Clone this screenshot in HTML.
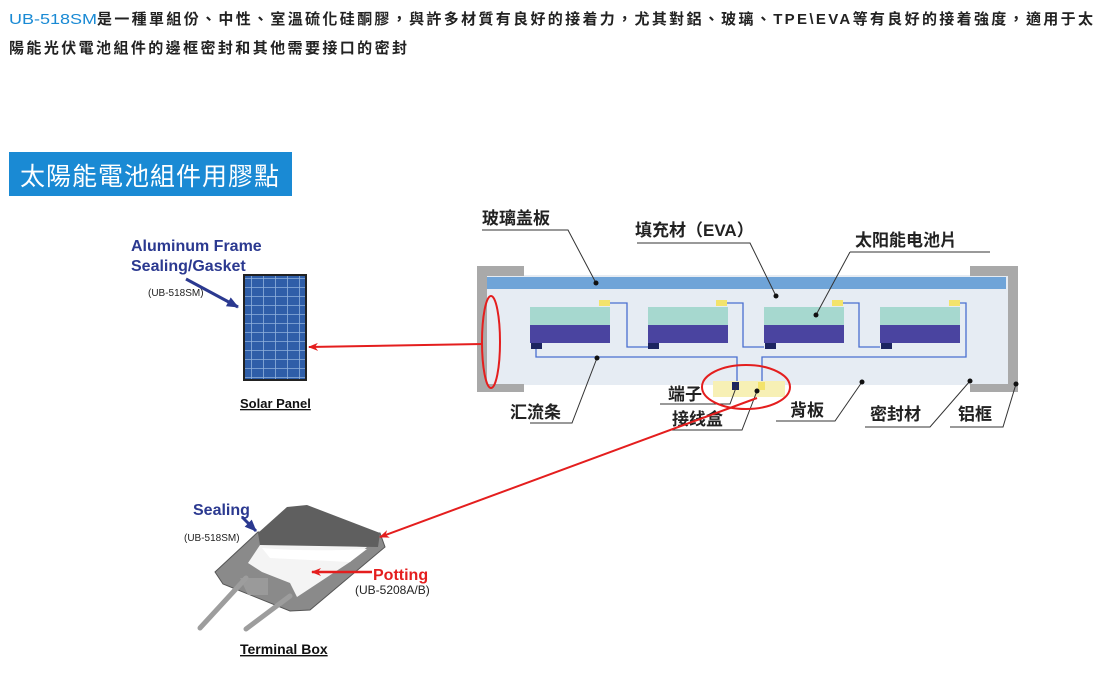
<!DOCTYPE html>
<html><head><meta charset="utf-8"><style>
body{margin:0;background:#fff;width:1100px;height:686px;overflow:hidden}
svg{display:block}
.cn{font-family:"Liberation Sans","Noto Sans CJK TC",sans-serif}
</style></head><body>
<svg width="1100" height="686" viewBox="0 0 1100 686" xmlns="http://www.w3.org/2000/svg">
<defs>
<marker id="ar" markerWidth="10" markerHeight="8" refX="9" refY="4" orient="auto" markerUnits="userSpaceOnUse"><path d="M0,0 L10,4 L0,8 L3,4z" fill="#e41e1e"/></marker>
<marker id="ab" markerWidth="12" markerHeight="10" refX="11" refY="5" orient="auto" markerUnits="userSpaceOnUse"><path d="M0,0 L12,5 L0,10z" fill="#2b3990"/></marker>
<pattern id="pv" width="12" height="9" patternUnits="userSpaceOnUse"><rect width="12" height="9" fill="#2f5ea8"/><path d="M0,8.5H12M11.5,0V9" stroke="#8fb0dc" stroke-width="0.8"/></pattern>
</defs>
<g class="cn" font-weight="bold" font-size="15" fill="#222">
<text x="9" y="24" fill="#1a8ad4" font-weight="normal" textLength="88" lengthAdjust="spacingAndGlyphs">UB-518SM</text>
<text x="97" y="24" textLength="996" lengthAdjust="spacing">是一種單組份、中性、室溫硫化硅酮膠，與許多材質有良好的接着力，尤其對鋁、玻璃、TPE\EVA等有良好的接着強度，適用于太</text>
<text x="9" y="53" textLength="398" lengthAdjust="spacing">陽能光伏電池組件的邊框密封和其他需要接口的密封</text>
</g>
<rect x="9" y="152" width="283" height="44" fill="#1a8ad4"/>
<text x="20" y="185" class="cn" font-size="25" fill="#fff" letter-spacing="1">太陽能電池組件用膠點</text>

<rect x="487" y="275" width="522" height="110" fill="#e6ecf3"/>
<rect x="487" y="277" width="519" height="12" fill="#6fa4d8"/>
<path d="M477,266H524V276H487V384H524V392H477Z" fill="#a9a9a9"/>
<path d="M1018,266H970V276H1008V384H970V392H1018Z" fill="#a9a9a9"/>
<g>
<rect x="530" y="307" width="80" height="18" fill="#a6d8cf"/><rect x="530" y="325" width="80" height="18" fill="#4a44a0"/>
<rect x="648" y="307" width="80" height="18" fill="#a6d8cf"/><rect x="648" y="325" width="80" height="18" fill="#4a44a0"/>
<rect x="764" y="307" width="80" height="18" fill="#a6d8cf"/><rect x="764" y="325" width="80" height="18" fill="#4a44a0"/>
<rect x="880" y="307" width="80" height="18" fill="#a6d8cf"/><rect x="880" y="325" width="80" height="18" fill="#4a44a0"/>
<g fill="#f3e36b"><rect x="599" y="300" width="11" height="6"/><rect x="716" y="300" width="11" height="6"/><rect x="832" y="300" width="11" height="6"/><rect x="949" y="300" width="11" height="6"/></g>
<g fill="#1c2460"><rect x="531" y="343" width="11" height="6"/><rect x="648" y="343" width="11" height="6"/><rect x="765" y="343" width="11" height="6"/><rect x="881" y="343" width="11" height="6"/></g>
<g fill="none" stroke="#4a6fd0" stroke-width="1.3">
<path d="M610,303H627V347H648M727,303H743V347H764M843,303H859V347H880M960,303H966V357H762V385M536,349V357H737V385"/>
</g>
<rect x="713" y="381" width="72" height="16" fill="#f7f0b5"/>
<rect x="732" y="382" width="7" height="8" fill="#1c2460"/>
<rect x="758" y="382" width="7" height="8" fill="#f3e36b"/>
</g>
<g stroke="#333" stroke-width="1" fill="none">
<path d="M482,230H568L596,283M637,243H750L776,296M850,252H990M850,252L816,315M530,423H572L597,358M660,404H730L737,385M672,430H742L757,391M776,421H835L862,382M865,427H930L970,381M950,427H1003L1016,384"/>
</g>
<g fill="#111"><circle cx="596" cy="283" r="2.5"/><circle cx="776" cy="296" r="2.5"/><circle cx="816" cy="315" r="2.5"/><circle cx="597" cy="358" r="2.5"/><circle cx="757" cy="391" r="2.5"/><circle cx="862" cy="382" r="2.5"/><circle cx="970" cy="381" r="2.5"/><circle cx="1016" cy="384" r="2.5"/></g>
<g class="cn" font-size="17" fill="#222" font-weight="bold">
<text x="482" y="224">玻璃盖板</text>
<text x="635" y="236">填充材（EVA）</text>
<text x="855" y="246">太阳能电池片</text>
<text x="510" y="418">汇流条</text>
<text x="668" y="400">端子</text>
<text x="672" y="425">接线盒</text>
<text x="790" y="416">背板</text>
<text x="870" y="420">密封材</text>
<text x="958" y="420">铝框</text>
</g>
<ellipse cx="491" cy="342" rx="9" ry="46" fill="none" stroke="#e41e1e" stroke-width="2"/>
<ellipse cx="746" cy="387" rx="44" ry="22" fill="none" stroke="#e41e1e" stroke-width="2"/>

<rect x="243" y="274" width="64" height="107" fill="#222"/>
<rect x="245" y="276" width="60" height="103" fill="url(#pv)"/>
<line x1="482" y1="344" x2="309" y2="347" stroke="#e41e1e" stroke-width="2" marker-end="url(#ar)"/>
<g font-family="Liberation Sans,sans-serif" font-weight="bold">
<text x="131" y="251" font-size="16" fill="#2b3990">Aluminum Frame</text>
<text x="131" y="271" font-size="16" fill="#2b3990">Sealing/Gasket</text>
<text x="240" y="408" font-size="13" fill="#111" text-decoration="underline">Solar Panel</text>
<text x="193" y="515" font-size="16" fill="#2b3990">Sealing</text>
<text x="373" y="580" font-size="16" fill="#e41e1e">Potting</text>
<text x="240" y="654" font-size="14" fill="#111" text-decoration="underline">Terminal Box</text>
</g>
<g font-family="Liberation Sans,sans-serif" font-size="10" fill="#222">
<text x="148" y="296">(UB-518SM)</text>
<text x="184" y="541">(UB-518SM)</text>
<text x="355" y="594" font-size="12">(UB-5208A/B)</text>
</g>
<line x1="186" y1="279" x2="238" y2="307" stroke="#2b3990" stroke-width="3" marker-end="url(#ab)"/>
<line x1="242" y1="517" x2="256" y2="531" stroke="#2b3990" stroke-width="3" marker-end="url(#ab)"/>

<path d="M215,572L258,532L380,533L385,547L310,610L290,611L223,584Z" fill="#8a8a8a" stroke="#555"/>
<path d="M248,563L262,542L367,547L350,562L297,597L290,583L262,572Z" fill="#f4f4f4"/>
<path d="M258,533L287,507L307,505L380,533L378,547L260,545Z" fill="#5f5f5f"/>
<path d="M262,548Q310,552 367,549L350,562L270,558Z" fill="#fff"/>
<path d="M240,578H268V595L248,595Z" fill="#9a9a9a"/>
<g stroke="#9d9d9d" stroke-width="5" stroke-linecap="round"><line x1="200" y1="628" x2="246" y2="578"/><line x1="246" y1="629" x2="290" y2="596"/></g>
<line x1="757" y1="398" x2="380" y2="537" stroke="#e41e1e" stroke-width="2" marker-end="url(#ar)"/>
<line x1="372" y1="572" x2="312" y2="572" stroke="#e41e1e" stroke-width="2.5" marker-end="url(#ar)"/>
</svg>
</body></html>
